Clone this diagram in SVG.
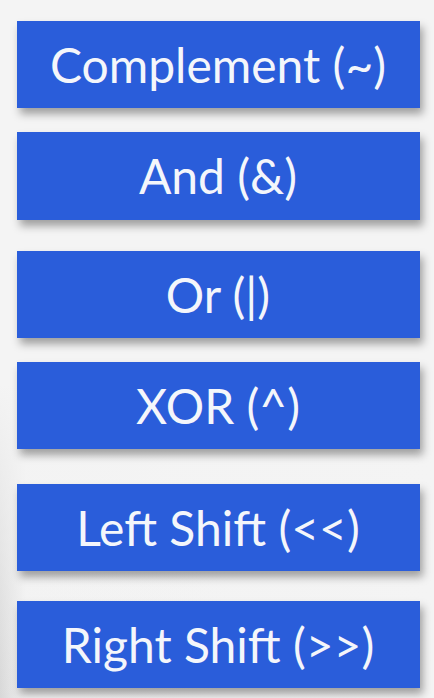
<svg xmlns="http://www.w3.org/2000/svg" width="434" height="698" viewBox="0 0 434 698">
<defs>
<style>
.box{fill:#2C5DDA;}
.lbl{font-family:"Lato","Noto Sans",sans-serif;font-size:48px;font-weight:400;fill:#F4F6FB;text-anchor:middle;}
</style>
<filter id="sh" x="-10%" y="-20%" width="125%" height="160%">
<feDropShadow dx="3" dy="6" stdDeviation="4" flood-color="#000" flood-opacity="0.35"/>
</filter>
<linearGradient id="bg" x1="0" y1="0" x2="1" y2="0">
<stop offset="0" stop-color="#D8D8D8"/>
<stop offset="0.06" stop-color="#F2F2F2"/>
<stop offset="1" stop-color="#F4F4F4"/>
</linearGradient>
<linearGradient id="bgv" x1="0" y1="0" x2="0" y2="1">
<stop offset="0" stop-color="#F4F4F4" stop-opacity="1"/>
<stop offset="0.55" stop-color="#F4F4F4" stop-opacity="1"/>
<stop offset="1" stop-color="#F4F4F4" stop-opacity="0"/>
</linearGradient>
</defs>
<rect x="0" y="0" width="434" height="698" fill="url(#bg)"/>
<rect x="0" y="0" width="434" height="698" fill="url(#bgv)"/>
<g id="connectors"></g>
<g id="n1"><rect class="box" x="17" y="21" width="403" height="87" filter="url(#sh)"/><text class="lbl" x="218" y="83">Complement (~)</text></g>
<g id="n2"><rect class="box" x="17" y="132" width="403" height="88" filter="url(#sh)"/><text class="lbl" x="218" y="194">And (&amp;)</text></g>
<g id="n3"><rect class="box" x="17" y="251" width="403" height="87" filter="url(#sh)"/><text class="lbl" x="218" y="313">Or (|)</text></g>
<g id="n4"><rect class="box" x="17" y="362" width="403" height="87" filter="url(#sh)"/><text class="lbl" x="218" y="424">XOR (^)</text></g>
<g id="n5"><rect class="box" x="17" y="484" width="403" height="87" filter="url(#sh)"/><text class="lbl" x="218" y="546">Left Shift (&lt;&lt;)</text></g>
<g id="n6"><rect class="box" x="17" y="601" width="403" height="87" filter="url(#sh)"/><text class="lbl" x="218" y="663">Right Shift (&gt;&gt;)</text></g>
</svg>
